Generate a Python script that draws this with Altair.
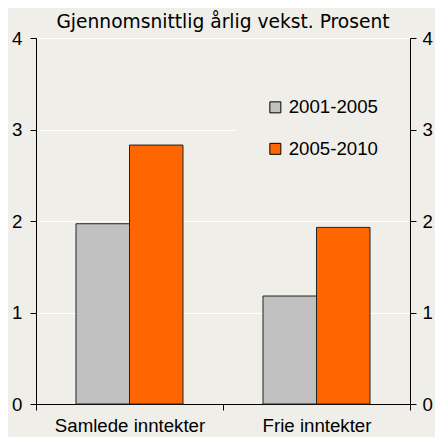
import altair as alt
import pandas as pd

categories = ["Samlede inntekter", "Frie inntekter"]
periods = ["2001-2005", "2005-2010"]
values_2001_2005 = [1.97, 1.18]
values_2005_2010 = [2.83, 1.93]
y_ticks = [0, 1, 2, 3, 4]
colors = ["#C0C0C0", "#FF6600"]
title_text = "Gjennomsnittlig årlig vekst. Prosent"

rows = []
for i, c in enumerate(categories):
    rows.append({"kategori": c, "periode": periods[0], "verdi": values_2001_2005[i]})
    rows.append({"kategori": c, "periode": periods[1], "verdi": values_2005_2010[i]})
df = pd.DataFrame(rows)

BG = "#EFEEE8"
FONT = "Liberation Sans"
FS = 18.67

x_enc = alt.X("kategori:N", sort=categories, title=None,
              scale=alt.Scale(paddingInner=0, paddingOuter=0),
              axis=alt.Axis(labelAngle=0, tickBand="extent", domainColor="black",
                            tickColor="black", tickSize=6, labelPadding=6,
                            labelFont=FONT, labelFontSize=FS, labelColor="black"))

y_scale = alt.Scale(domain=[0, 4], nice=False)

bars = alt.Chart(df).mark_bar(stroke="#222222", strokeWidth=1).encode(
    x=x_enc,
    xOffset=alt.XOffset("periode:N", sort=periods,
                        scale=alt.Scale(paddingInner=0, paddingOuter=0.748)),
    y=alt.Y("verdi:Q", scale=y_scale, title=None,
            axis=alt.Axis(values=y_ticks, grid=True, gridColor="white", gridWidth=1,
                          domainColor="black", tickColor="black", tickSize=6,
                          labelPadding=8, labelFont=FONT, labelFontSize=FS,
                          labelColor="black")),
    color=alt.Color("periode:N", sort=periods, title=None,
                    scale=alt.Scale(domain=periods, range=colors),
                    legend=alt.Legend(orient="none", legendX=200, legendY=30,
                                      symbolType="square", symbolSize=121,
                                      symbolStrokeColor="black", symbolStrokeWidth=1,
                                      labelFont=FONT, labelFontSize=FS,
                                      labelColor="black", labelOffset=4,
                                      rowPadding=21.5, fillColor=BG, padding=30)),
)

right_axis = alt.Chart(df).mark_point(opacity=0).encode(
    x=alt.X("kategori:N", sort=categories),
    y=alt.Y("verdi:Q", scale=y_scale, title=None,
            axis=alt.Axis(orient="right", values=y_ticks, grid=False,
                          domainColor="black", tickColor="black", tickSize=6,
                          labelPadding=6, labelFont=FONT, labelFontSize=FS,
                          labelColor="black")),
)

chart = alt.layer(bars, right_axis).resolve_scale(y="independent").properties(
    width=374, height=366,
    background=BG,
    autosize=alt.AutoSizeParams(type="none"),
    padding={"left": 28, "top": 30, "right": 25, "bottom": 33},
    title=alt.Title(title_text, font="DejaVu Sans", fontSize=FS, fontWeight="normal",
                    color="black", anchor="middle", offset=-3),
).configure_view(stroke="black", strokeWidth=1, fill=BG)

chart.save("out.html", embed_options={"renderer": "svg", "actions": False})
